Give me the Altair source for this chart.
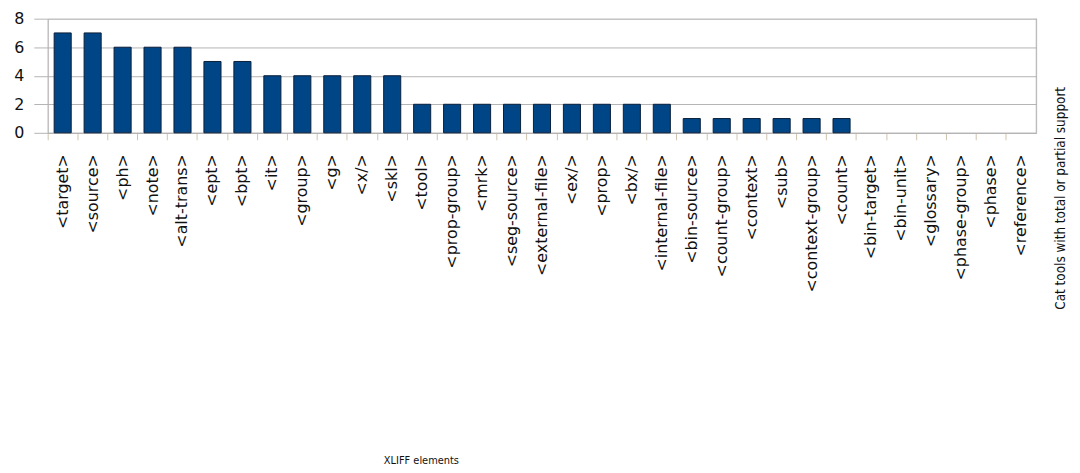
import altair as alt
import pandas as pd

elements = ["<target>", "<source>", "<ph>", "<note>", "<alt-trans>", "<ept>", "<bpt>", "<it>",
            "<group>", "<g>", "<x/>", "<skl>", "<tool>", "<prop-group>", "<mrk>", "<seg-source>",
            "<external-file>", "<ex/>", "<prop>", "<bx/>", "<internal-file>", "<bin-source>",
            "<count-group>", "<context>", "<sub>", "<context-group>", "<count>", "<bin-target>",
            "<bin-unit>", "<glossary>", "<phase-group>", "<phase>", "<reference>"]
tools = [7, 7, 6, 6, 6, 5, 5, 4, 4, 4, 4, 4, 2, 2, 2, 2, 2, 2, 2, 2, 2, 1, 1, 1, 1, 1, 1,
         0, 0, 0, 0, 0, 0]
legend_label = ["Cat tools with total or partial support"]
x_title = "XLIFF elements"

df = pd.DataFrame({"element": elements, "tools": tools})
leg = pd.DataFrame({"label": legend_label})

W, H = 996, 115

bars = alt.Chart(df).mark_bar(
    color="#004586", stroke="#0a1f3a", strokeWidth=1, width=alt.RelativeBandSize(0.57)
).encode(
    x=alt.X("element:N", sort=elements, title=x_title,
            scale=alt.Scale(paddingInner=0, paddingOuter=0),
            axis=alt.Axis(labelAngle=270, labelAlign="right", labelBaseline="middle",
                          labelFont="DejaVu Sans", labelFontSize=16, labelColor="#111111",
                          labelPadding=14, tickSize=7, bandPosition=0,
                          tickColor="#cfc3ad", domainColor="#b0b0b0",
                          titleFont="DejaVu Sans Condensed", titleFontSize=11, titleFontWeight="normal",
                          titleColor="#111111", titleY=324, titleX=376, titleAlign="center")),
    y=alt.Y("tools:Q", title=None,
            scale=alt.Scale(domain=[0, 8], nice=False),
            axis=alt.Axis(values=[0, 2, 4, 6, 8], labelFont="DejaVu Sans", labelFontSize=16,
                          labelColor="#111111", tickSize=14, tickColor="#b3b3b3",
                          labelPadding=10, domainColor="#b0b0b0", gridColor="#b3b3b3",
                          grid=True, gridWidth=1)),
    strokeOpacity=alt.condition("datum.tools > 0", alt.value(1), alt.value(0)),
)

legend_text = alt.Chart(leg).mark_text(
    angle=270, font="DejaVu Sans Condensed", fontSize=13.5, color="#111111", align="center",
    baseline="middle"
).encode(
    text="label:N",
    x=alt.value(W + 25),
    y=alt.value(181),
)

right_line = alt.Chart(leg).mark_rule(color="#b0b0b0").encode(
    x=alt.value(W), y=alt.value(0), y2=alt.value(H)
)

chart = alt.layer(bars, right_line, legend_text).properties(
    width=W, height=H,
    autosize=alt.AutoSizeParams(type="none"),
    padding={"left": 40, "top": 9, "right": 36, "bottom": 341},
).configure_view(stroke=None).configure(background="white")

chart.save("out.html", embed_options={"renderer": "svg", "actions": False})
